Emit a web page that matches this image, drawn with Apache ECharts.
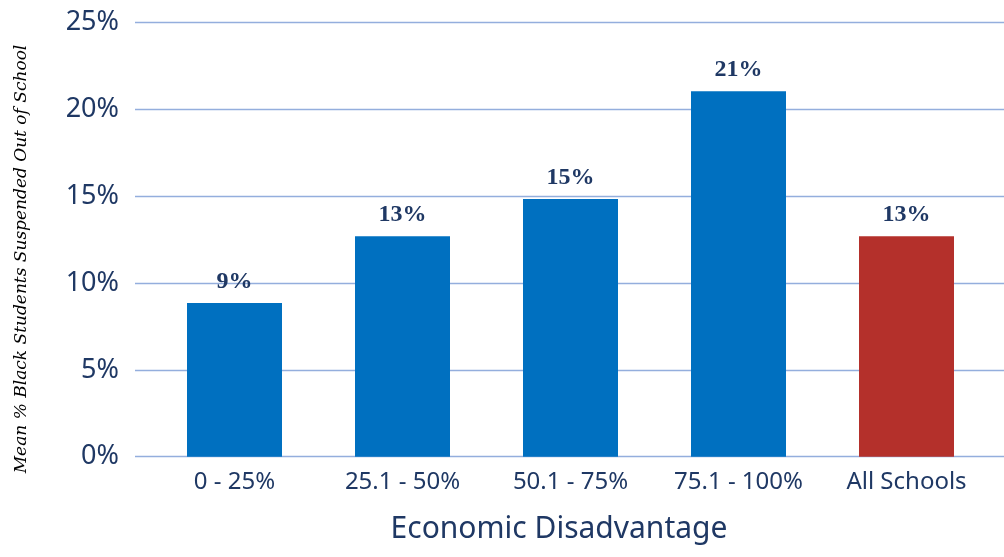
<!DOCTYPE html>
<html>
<head>
<meta charset="utf-8">
<script src="https://cdn.jsdelivr.net/npm/echarts@6/dist/echarts.min.js"></script>
<style>
html,body{margin:0;padding:0;background:#fff;}
#chart{width:1004px;height:557px;}
</style>
</head>
<body>
<div id="chart"></div>
<script>
const categories = ['0 - 25%', '25.1 - 50%', '50.1 - 75%', '75.1 - 100%', 'All Schools'];
const values = [8.85, 12.7, 14.85, 21.05, 12.7];
const valueLabels = ['9%', '13%', '15%', '21%', '13%'];
const yTicks = [0, 5, 10, 15, 20, 25];
const xAxisTitle = 'Economic Disadvantage';
const yAxisTitle = 'Mean % Black Students Suspended Out of School';

const TEXT = '#1f3864';
const BLUE = '#0070c0';
const RED = '#b4302b';
const GRID = '#94aedd';

const chart = echarts.init(document.getElementById('chart'), null, {renderer: 'canvas'});
const gridTop = 22.7, gridBottom = 557 - 456.7;
chart.setOption({
  animation: false,
  backgroundColor: '#fff',
  grid: [
    {left: 135, right: 0, top: gridTop, bottom: gridBottom, containLabel: false},
    {left: 150.5, right: 13.5, top: gridTop, bottom: gridBottom, containLabel: false}
  ],
  xAxis: [
    {gridIndex: 0, type: 'category', data: categories, show: false},
    {
      gridIndex: 1, type: 'category', data: categories,
      axisLine: {show: false}, axisTick: {show: false},
      axisLabel: {color: TEXT, fontFamily: 'Noto Sans', fontSize: 24, margin: 13},
      name: xAxisTitle, nameLocation: 'middle', nameGap: 58,
      nameTextStyle: {color: TEXT, fontFamily: 'Noto Sans', fontSize: 30, padding: [0, 23, 0, 0]}
    }
  ],
  yAxis: [
    {
      gridIndex: 0, type: 'value', min: yTicks[0], max: yTicks[yTicks.length - 1], interval: 5,
      axisLine: {show: false}, axisTick: {show: false},
      axisLabel: {color: TEXT, fontFamily: 'Noto Sans', fontSize: 27, margin: 16, formatter: v => v + '%'},
      splitLine: {lineStyle: {color: GRID, width: 1.3}}
    },
    {
      gridIndex: 1, type: 'value', min: yTicks[0], max: yTicks[yTicks.length - 1], interval: 5,
      show: false, splitLine: {show: false}
    }
  ],
  graphic: [{
    type: 'text', x: 22, y: 259, rotation: Math.PI / 2,
    style: {text: yAxisTitle, fill: '#000', font: 'italic 17px "DejaVu Serif"', textAlign: 'center', textVerticalAlign: 'middle'}
  }],
  series: [{
    type: 'bar', xAxisIndex: 1, yAxisIndex: 1, data: values, barWidth: 95,
    itemStyle: {color: p => p.dataIndex === categories.length - 1 ? RED : BLUE},
    label: {
      show: true, position: 'top', distance: 9, color: TEXT,
      fontFamily: 'Liberation Serif', fontWeight: 'bold', fontSize: 24,
      formatter: p => valueLabels[p.dataIndex]
    }
  }]
});
</script>
</body>
</html>
